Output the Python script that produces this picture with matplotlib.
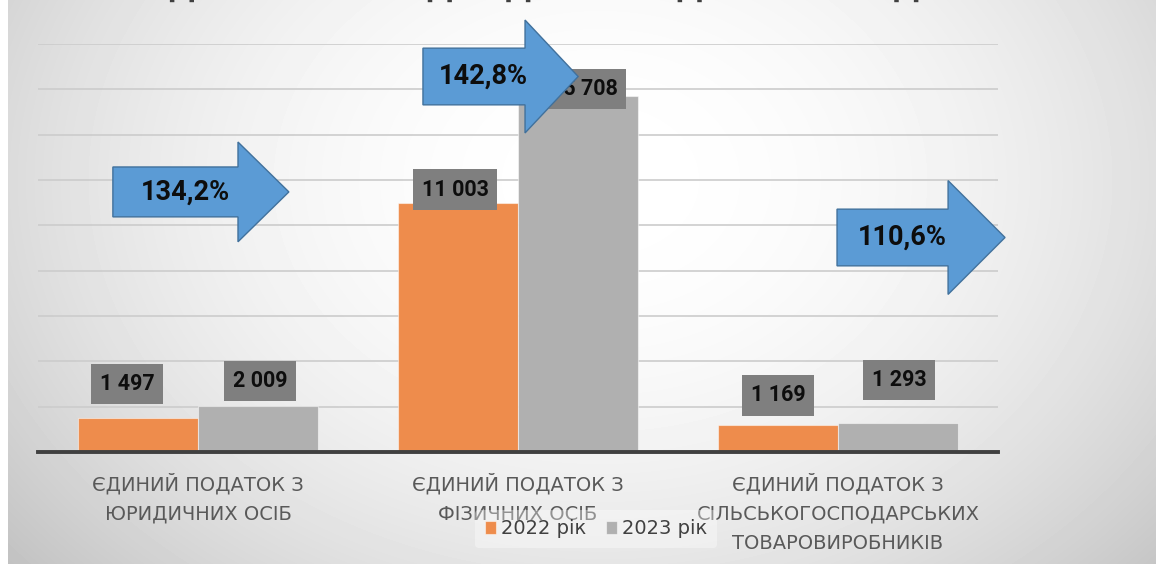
import matplotlib.pyplot as plt
import numpy as np
from matplotlib.patches import FancyArrow

# --- data -------------------------------------------------------------
categories = [
    "ЄДИНИЙ ПОДАТОК З\nЮРИДИЧНИХ ОСІБ",
    "ЄДИНИЙ ПОДАТОК З\nФІЗИЧНИХ ОСІБ",
    "ЄДИНИЙ ПОДАТОК З\nСІЛЬСЬКОГОСПОДАРСЬКИХ\nТОВАРОВИРОБНИКІВ",
]
values_2022 = [1497, 11003, 1169]
values_2023 = [2009, 15708, 1293]
series_names = ["2022 рік", "2023 рік"]
chart_title = "ДИНАМІКА НАДХОДЖЕНЬ ЄДИНОГО ПОДАТКУ"

# --- layout / style ----------------------------------------------------
W, H = 1156, 564
COLOR_2022 = "#EE8C4C"
COLOR_2023 = "#B0B0B0"
ARROW_FACE = "#5B9BD5"
ARROW_EDGE = "#41719C"
BAR_W = 0.375

# label box offsets from bar top (pixels), moved by hand in the original
offsets_2022 = [(-11, 34), (-3, 13), (0, 30)]
offsets_2023 = [(2, 25), (6, 7), (1, 43)]

# arrows: (left x, centre y, head base x, tip x, body height, head height)
arrow_layout = [
    (-0.266, 11470, 0.125, 0.284, 2200, 4400),
    (0.703, 16560, 1.022, 1.188, 2500, 4980),
    (1.997, 9460, 2.344, 2.522, 2500, 5020),
]


def fmt_thousands(v):
    return f"{v:,}".replace(",", " ")


fig = plt.figure(figsize=(W / 100, H / 100), dpi=100, facecolor="white")

# radial grey background (leaves a thin white strip on the left)
bg = fig.add_axes([8 / W, 0, 1 - 8 / W, 1], zorder=-10)
xs = np.arange(8, W)
ys = np.arange(H)
gx, gy = np.meshgrid(xs, ys)
r2 = ((gx - 600) / 650) ** 2 + ((gy - 180) / 500) ** 2
shade = np.clip(1 - 0.17 * r2, 0, 1)
bg.imshow(shade, cmap="gray", vmin=0, vmax=1, aspect="auto")
bg.axis("off")

top_px = 452 - 9 * 45.35
ax = fig.add_axes([38 / W, 112 / H, 960 / W, (452 - top_px) / H])
ax.set_facecolor("none")

x = np.arange(len(categories))
bars_a = ax.bar(x - BAR_W / 2, values_2022, BAR_W, color=COLOR_2022,
                edgecolor=(1, 1, 1, 0.5), linewidth=0.8, label=series_names[0],
                zorder=2)
bars_b = ax.bar(x + BAR_W / 2, values_2023, BAR_W, color=COLOR_2023,
                edgecolor=(1, 1, 1, 0.5), linewidth=0.8, label=series_names[1],
                zorder=2)

ax.set_xlim(-0.5, 2.5)
ax.set_ylim(0, 18000)
ax.set_yticks(range(2000, 18001, 2000))
ax.tick_params(axis="y", length=0, labelleft=False)
ax.grid(axis="y", color="#CCCCCC", linewidth=1.2)
ax.set_axisbelow(True)
for side in ("top", "left", "right"):
    ax.spines[side].set_visible(False)
ax.spines["bottom"].set_color("#404040")
ax.spines["bottom"].set_linewidth(2.8)
ax.spines["bottom"].set_zorder(3)

ax.set_xticks(x, categories, fontsize=14, color="#595959")
ax.tick_params(axis="x", length=0, pad=15)
for lbl in ax.get_xticklabels():
    lbl.set_linespacing(1.7)

# data labels
label_font = ["Roboto", "DejaVu Sans"]
for bars, vals, offs in ((bars_a, values_2022, offsets_2022),
                         (bars_b, values_2023, offsets_2023)):
    for bar, v, (dx, dy) in zip(bars, vals, offs):
        ax.annotate(
            fmt_thousands(v),
            (bar.get_x() + bar.get_width() / 2, v),
            xytext=(dx, dy),
            textcoords="offset pixels",
            ha="center",
            va="center",
            fontsize=15.5,
            fontweight="bold",
            family=label_font,
            color="#0D0D0D",
            bbox=dict(boxstyle="square,pad=0.42", facecolor="#7F7F7F",
                      edgecolor="none"),
            zorder=4,
            annotation_clip=False,
        )

# growth arrows
for (x0, yc, head_x, tip_x, body_h, head_h), a, b in zip(
        arrow_layout, values_2022, values_2023):
    arrow = FancyArrow(
        x0, yc, tip_x - x0, 0,
        width=body_h, head_width=head_h, head_length=tip_x - head_x,
        length_includes_head=True,
        facecolor=ARROW_FACE, edgecolor=ARROW_EDGE, linewidth=1.0,
        zorder=5, clip_on=False,
    )
    ax.add_patch(arrow)
    pct = f"{b / a * 100:.1f}%".replace(".", ",")
    ax.text((x0 + head_x) / 2 + 0.03, yc, pct, ha="center", va="center",
            fontsize=19.5, fontweight="bold", family=label_font,
            color="#0D0D0D", zorder=6, clip_on=False)

# title sits above the visible area (only descenders show)
fig.text(592 / W, 1 + 3.5 / H, chart_title, ha="center", va="baseline",
         fontsize=22.5, fontweight="bold", color="#404040")

leg = fig.legend(
    loc="center",
    bbox_to_anchor=(596 / W, 1 - 529 / H),
    ncol=2,
    fontsize=14,
    frameon=True,
    handlelength=0.6,
    handleheight=0.6,
    handletextpad=0.25,
    columnspacing=1.0,
    borderpad=0.5,
)
leg.get_frame().set_facecolor("white")
leg.get_frame().set_alpha(0.35)
leg.get_frame().set_edgecolor("none")
for t in leg.get_texts():
    t.set_color("#404040")

fig.savefig("out.png", dpi=100)
plt.close(fig)
